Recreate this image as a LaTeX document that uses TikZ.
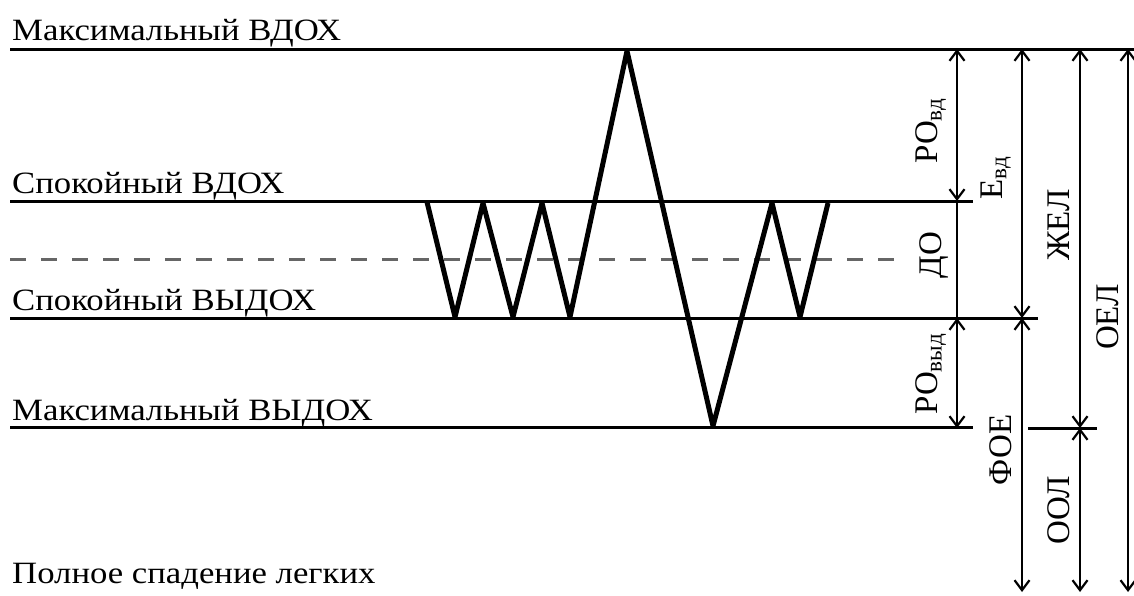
\documentclass[tikz,border=0pt]{standalone}
\usepackage{fontspec}
\setmainfont{Liberation Serif}
\usetikzlibrary{arrows.meta}
\begin{document}
\begin{tikzpicture}[x=1pt,y=-1pt,
  hline/.style={line width=3pt},
  zz/.style={line width=5pt,line join=round},
  dashline/.style={line width=3pt,draw=black!60,dash pattern=on 16pt off 15pt},
  dimline/.style={line width=2.2pt},
  dimarr/.style={dimline,{Straight Barb[length=10pt,width=15pt]}-{Straight Barb[length=10pt,width=15pt]}},
  lbl/.style={font=\fontsize{31}{31}\selectfont,anchor=base west,inner sep=0pt,xscale=1.12},
  rlbl/.style={font=\fontsize{33}{33}\selectfont,rotate=90,inner sep=0pt}
]
\useasboundingbox (0,0) rectangle (1134,595);
% level coordinates
\coordinate (t0) at (10,49);   \coordinate (t1) at (1134,49);
\coordinate (c0) at (10,201);  \coordinate (c1) at (973,201);
\coordinate (d0) at (10,259);  \coordinate (d1) at (905,259);
\coordinate (e0) at (10,318);  \coordinate (e1) at (1038,318);
\coordinate (m0) at (10,427);  \coordinate (m1) at (973,427);
\coordinate (s0) at (1028,428);\coordinate (s1) at (1097,428);
\draw[hline] (t0) -- (t1);
\draw[hline] (c0) -- (c1);
\draw[dashline] (d0) -- (d1);
\draw[hline] (e0) -- (e1);
\draw[hline] (m0) -- (m1);
\draw[hline] (s0) -- (s1);
% left labels
\node[lbl] (lmaxin) at (12,40) {Максимальный ВДОХ};
\node[lbl] (lcalmin) at (12,193) {Спокойный ВДОХ};
\node[lbl] (lcalmout) at (12,310) {Спокойный ВЫДОХ};
\node[lbl] (lmaxout) at (12,420) {Максимальный ВЫДОХ};
\node[lbl] (lcoll) at (12,583) {Полное спадение легких};
% zigzag
\coordinate (z1) at (427,202);
\coordinate (z2) at (455,317);
\coordinate (z3) at (483,203);
\coordinate (z4) at (513,317);
\coordinate (z5) at (542,203);
\coordinate (z6) at (570,317);
\coordinate (z7) at (627,51);
\coordinate (z8) at (713,426);
\coordinate (z9) at (772,203);
\coordinate (z10) at (800,317);
\coordinate (z11) at (828,203);
\draw[zz] (z1) -- (z2) -- (z3) -- (z4) -- (z5) -- (z6) -- (z7) -- (z8) -- (z9) -- (z10) -- (z11);
% dimension coordinates
\coordinate (a0) at (957,49);  \coordinate (a1) at (957,201);
\coordinate (a2) at (957,318); \coordinate (a3) at (957,428);
\coordinate (b0) at (1022,49); \coordinate (b1) at (1022,318); \coordinate (b2) at (1022,592);
\coordinate (g0) at (1080,49); \coordinate (g1) at (1080,428); \coordinate (g2) at (1080,592);
\coordinate (h0) at (1128,49); \coordinate (h1) at (1128,592);
\draw[dimarr] (a0) -- (a1);
\draw[dimline] (a1) -- (a2);
\draw[dimarr] (a2) -- (a3);
\draw[dimarr] (b0) -- (b1);
\draw[dimarr] (b1) -- (b2);
\draw[dimarr] (g0) -- (g1);
\draw[dimarr] (g1) -- (g2);
\draw[dimarr] (h0) -- (h1);
% rotated labels
\node[rlbl] (lrovd) at (931,131) {РО\textsubscript{вд}};
\node[rlbl] (levd) at (996,178) {Е\textsubscript{вд}};
\node[rlbl] (ldo) at (934,255) {ДО};
\node[rlbl] (lzhel) at (1059,225) {ЖЕЛ};
\node[rlbl] (loel) at (1108,317) {ОЕЛ};
\node[rlbl] (lrovyd) at (931,374) {РО\textsubscript{выд}};
\node[rlbl] (lfoe) at (1001,450) {ФОЕ};
\node[rlbl] (lool) at (1059,510) {ООЛ};
\end{tikzpicture}
\end{document}
